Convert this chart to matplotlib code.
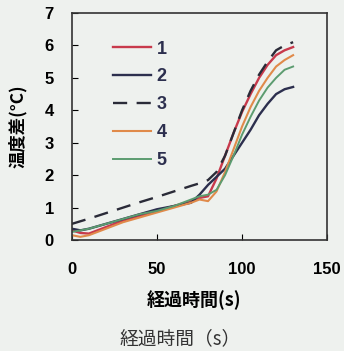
import matplotlib
matplotlib.use('Agg')
import matplotlib.pyplot as plt
import numpy as np

plt.rcParams['font.family'] = ['Liberation Sans', 'Noto Sans CJK JP']

# elapsed time (s)
t = [0, 5, 10, 20, 30, 40, 50, 60, 70, 75, 80, 85, 90, 95, 100, 105, 110, 115, 120, 125, 130]

s1 = [0.30, 0.22, 0.20, 0.40, 0.60, 0.75, 0.90, 1.05, 1.20, 1.30, 1.35, 1.90, 2.60, 3.30, 3.95, 4.50, 5.00, 5.40, 5.70, 5.85, 5.95]
s2 = [0.35, 0.30, 0.35, 0.50, 0.65, 0.80, 0.95, 1.05, 1.15, 1.40, 1.70, 1.95, 2.20, 2.60, 3.00, 3.40, 3.85, 4.20, 4.50, 4.65, 4.72]
s3 = [0.50, 0.58, 0.66, 0.83, 1.00, 1.17, 1.33, 1.50, 1.67, 1.75, 1.85, 2.10, 2.60, 3.30, 4.00, 4.60, 5.10, 5.50, 5.85, 6.00, 6.10]
s4 = [0.15, 0.10, 0.15, 0.35, 0.55, 0.70, 0.85, 1.00, 1.15, 1.25, 1.20, 1.50, 2.10, 2.80, 3.50, 4.10, 4.60, 5.00, 5.35, 5.55, 5.70]
s5 = [0.25, 0.30, 0.35, 0.50, 0.65, 0.80, 0.90, 1.05, 1.25, 1.35, 1.40, 1.55, 2.00, 2.60, 3.25, 3.80, 4.30, 4.70, 5.00, 5.25, 5.35]

labels = ['1', '2', '3', '4', '5']
xticks = [0, 50, 100, 150]
yticks = [0, 1, 2, 3, 4, 5, 6, 7]

bg = '#eef1ee'
cjk = ['Noto Sans CJK JP', 'DejaVu Sans']

fig = plt.figure(figsize=(3.44, 3.51), dpi=100, facecolor=bg)
ax = fig.add_axes([0.209, 0.316, 0.742, 0.647], facecolor=bg)

ax.plot(t, s1, color='#c83a4c', lw=1.7, label=labels[0])
ax.plot(t, s2, color='#2c2f4e', lw=1.7, label=labels[1])
ax.plot(t, s3, color='#2a2b38', lw=1.7, ls=(0, (6, 4)), label=labels[2])
ax.plot(t, s4, color='#e08a4a', lw=1.5, label=labels[3])
ax.plot(t, s5, color='#5c9c70', lw=1.4, label=labels[4])

ax.set_xlim(0, 150)
ax.set_ylim(0, 7)
ax.set_xticks(xticks)
ax.set_yticks(yticks)
ax.tick_params(direction='in', length=4, width=0.8, labelsize=12)
ax.tick_params(axis='x', pad=16)
ax.tick_params(axis='y', pad=13)
for lab in ax.get_xticklabels() + ax.get_yticklabels():
    lab.set_fontweight('bold')
for sp in ax.spines.values():
    sp.set_linewidth(1.2)
    sp.set_color('#333333')

leg = ax.legend(loc='upper left', bbox_to_anchor=(0.099, 0.95), frameon=False,
                handlelength=2.1, handletextpad=0.3, labelspacing=0.6,
                prop={'size': 13, 'weight': 'bold'})
for txt in leg.get_texts():
    txt.set_color('#2c2f4e')

ax.set_ylabel('温度差(°C)', fontsize=12.5, fontweight='bold', family=cjk)
ax.yaxis.set_label_coords(-0.176, 0.5)
ax.set_xlabel('経過時間(s)', fontsize=13, fontweight='bold', family=cjk)
ax.xaxis.set_label_coords(0.48, -0.22)

fig.text(0.523, 0.035, '経過時間（s）', ha='center', va='center', fontsize=13.5,
         family=cjk, color='#333333')

fig.savefig('out.png', dpi=100, facecolor=bg)
